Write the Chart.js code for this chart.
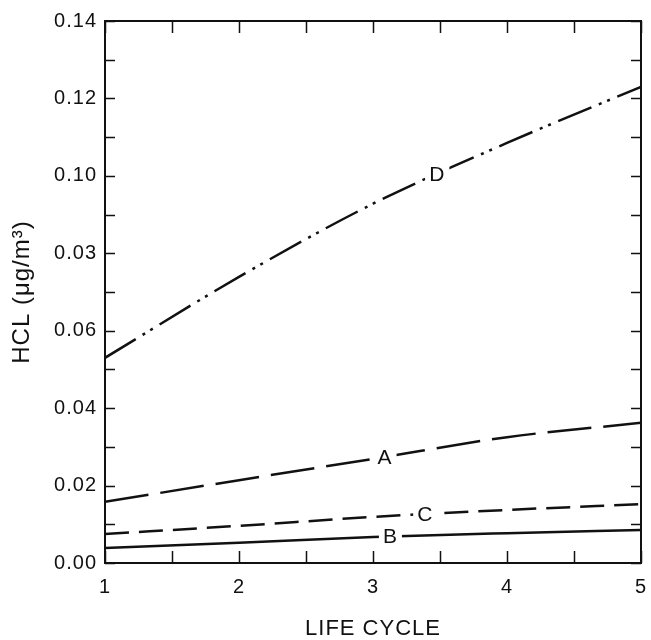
<!DOCTYPE html>
<html>
<head>
<meta charset="utf-8">
<script src="https://cdn.jsdelivr.net/npm/chart.js@4/dist/chart.umd.min.js"></script>
<style>
  html, body { margin: 0; padding: 0; background: #fff; }
  #wrap { width: 651px; height: 640px; }
</style>
</head>
<body>
<div id="wrap"><canvas id="c" width="651" height="640"></canvas></div>
<script>
// ---- data ----
const lifeCycles = [1, 2, 3, 4, 5];
const seriesA = [0.0158, 0.0214, 0.0269, 0.0325, 0.0362];
const seriesB = [0.0039, 0.0052, 0.0067, 0.0077, 0.0085];
const seriesC = [0.0075, 0.0096, 0.0119, 0.0137, 0.0152];
const seriesD = [0.0530, 0.0739, 0.0928, 0.1085, 0.1230];
const yTickLabels = ['0.00', '0.02', '0.04', '0.06', '0.03', '0.10', '0.12', '0.14'];
const xTickLabels = ['1', '2', '3', '4', '5'];
const seriesNames = ['A', 'B', 'C', 'D'];
const labelAt = [3.09, 3.13, 3.39, 3.48];

const FONT = "'Liberation Sans', Arial, sans-serif";
const INK = '#111';

function pts(vals) { return lifeCycles.map((x, i) => ({ x: x, y: vals[i] })); }

const spacing = {
  id: 'spacing',
  beforeDraw(chart) { chart.ctx.letterSpacing = '1px'; }
};

const frameTicks = {
  id: 'frameTicks',
  afterDatasetsDraw(chart) {
    const { ctx, chartArea: a, scales: { x, y } } = chart;
    ctx.save();
    ctx.strokeStyle = INK;
    ctx.lineWidth = 2;
    ctx.strokeRect(a.left, a.top, a.right - a.left, a.bottom - a.top);
    ctx.lineWidth = 1.5;
    const L = 10;
    for (let v = 0; v <= 0.1401; v += 0.01) {
      const py = Math.round(y.getPixelForValue(v)) + 0.5;
      ctx.beginPath();
      ctx.moveTo(a.left, py); ctx.lineTo(a.left + L, py);
      ctx.moveTo(a.right, py); ctx.lineTo(a.right - L, py);
      ctx.stroke();
    }
    for (let v = 1; v <= 5.001; v += 0.5) {
      const px = Math.round(x.getPixelForValue(v)) + 0.5;
      ctx.beginPath();
      ctx.moveTo(px, a.bottom); ctx.lineTo(px, a.bottom - 12);
      ctx.moveTo(px, a.top); ctx.lineTo(px, a.top + 12);
      ctx.stroke();
    }
    ctx.restore();
  }
};

const lineLabels = {
  id: 'lineLabels',
  afterDatasetsDraw(chart) {
    const { ctx, scales: { x, y } } = chart;
    ctx.save();
    ctx.font = '21px ' + FONT;
    ctx.textAlign = 'center';
    ctx.textBaseline = 'middle';
    chart.data.datasets.forEach((ds, i) => {
      const lx = labelAt[i];
      const d = ds.data;
      let k = 0;
      while (k < d.length - 2 && d[k + 1].x < lx) k++;
      const t = (lx - d[k].x) / (d[k + 1].x - d[k].x);
      const v = d[k].y + t * (d[k + 1].y - d[k].y);
      const px = x.getPixelForValue(lx), py = y.getPixelForValue(v);
      const w = ctx.measureText(seriesNames[i]).width;
      ctx.fillStyle = '#fff';
      ctx.fillRect(px - w / 2 - 4, py - 10, w + 8, 20);
      ctx.fillStyle = INK;
      ctx.fillText(seriesNames[i], px, py + 1);
    });
    ctx.restore();
  }
};

const mk = (vals, dash) => ({
  data: pts(vals), borderColor: INK, borderWidth: 2.5, borderDash: dash,
  pointRadius: 0, cubicInterpolationMode: 'monotone', fill: false
});

new Chart(document.getElementById('c'), {
  type: 'line',
  data: {
    datasets: [
      mk(seriesA, [44, 12]),
      mk(seriesB, []),
      mk(seriesC, [24, 10]),
      mk(seriesD, [36, 8, 3, 6, 3, 8])
    ]
  },
  options: {
    responsive: false,
    animation: false,
    devicePixelRatio: 1,
    layout: { padding: { top: 21, right: 10, left: 0, bottom: 0 } },
    plugins: { legend: { display: false }, tooltip: { enabled: false } },
    scales: {
      x: {
        type: 'linear', min: 1, max: 5,
        grid: { display: false, drawTicks: false },
        border: { display: false },
        ticks: {
          stepSize: 1, padding: 12, color: INK,
          font: { family: FONT, size: 20 },
          callback: (v) => { const i = lifeCycles.indexOf(v); return i >= 0 ? xTickLabels[i] : ''; }
        },
        title: { display: true, text: 'LIFE CYCLE', color: INK, font: { family: FONT, size: 22, lineHeight: 1.0 }, padding: { top: 0, bottom: 0 } },
        afterFit: (s) => { s.height = 77; s.paddingLeft = 0; s.paddingRight = 0; }
      },
      y: {
        min: 0, max: 0.14,
        grid: { display: false, drawTicks: false },
        border: { display: false },
        ticks: {
          stepSize: 0.02, padding: 8, color: INK,
          font: { family: FONT, size: 20 },
          callback: (v, i) => yTickLabels[i]
        },
        title: { display: true, text: 'HCL (\u03bcg/m\u00b3)', color: INK, font: { family: FONT, size: 24 }, padding: { top: 8, bottom: 0 } },
        afterFit: (s) => { s.width = 105; s.paddingTop = 0; s.paddingBottom = 0; }
      }
    }
  },
  plugins: [spacing, frameTicks, lineLabels]
});
</script>
</body>
</html>
